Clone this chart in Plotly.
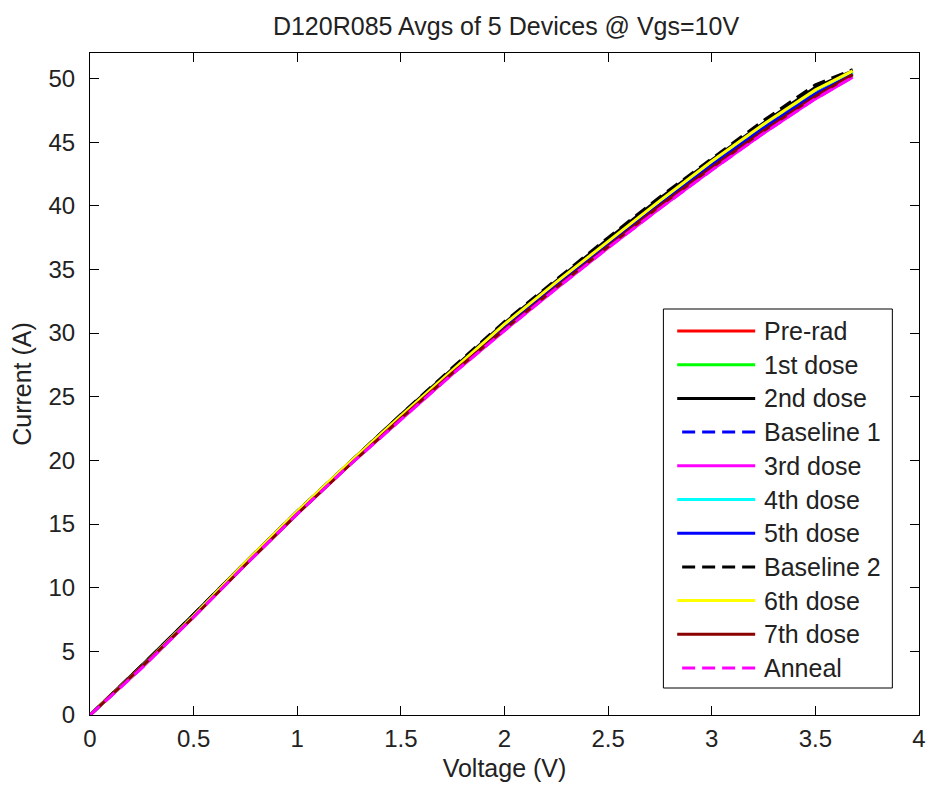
import plotly.graph_objects as go

# ---------------- data ----------------
voltage = [0, 0.25, 0.5, 0.75, 1.0, 1.25, 1.5, 1.75, 2.0, 2.25, 2.5, 2.75, 3.0, 3.25, 3.5, 3.68]

pre_rad    = [0, 3.8, 7.8, 11.9, 15.9, 19.7, 23.4, 27.0, 30.5, 33.8, 37.0, 40.2, 43.2, 46.1, 48.8, 50.4]
dose_1     = [0, 3.8, 7.8, 11.9, 15.9, 19.7, 23.4, 27.0, 30.5, 33.8, 37.0, 40.2, 43.3, 46.2, 48.9, 50.5]
dose_2     = [0, 3.9, 7.9, 12.0, 16.0, 19.8, 23.6, 27.2, 30.8, 34.1, 37.4, 40.6, 43.6, 46.5, 49.3, 50.6]
baseline_1 = [0, 3.8, 7.8, 11.9, 15.9, 19.7, 23.4, 27.0, 30.5, 33.8, 37.0, 40.2, 43.3, 46.2, 48.9, 50.4]
dose_3     = [0, 3.7, 7.7, 11.8, 15.8, 19.6, 23.2, 26.8, 30.2, 33.5, 36.7, 39.8, 42.8, 45.7, 48.4, 50.1]
dose_4     = [0, 3.8, 7.8, 11.9, 15.9, 19.7, 23.4, 27.0, 30.5, 33.8, 37.0, 40.2, 43.2, 46.1, 48.8, 50.4]
dose_5     = [0, 3.8, 7.8, 11.9, 15.9, 19.7, 23.4, 27.0, 30.5, 33.8, 37.0, 40.1, 43.2, 46.1, 48.8, 50.3]
baseline_2 = [0, 3.9, 7.9, 12.0, 16.0, 19.8, 23.6, 27.3, 30.9, 34.2, 37.5, 40.7, 43.7, 46.7, 49.5, 50.7]
dose_6     = [0, 3.8, 7.8, 12.0, 16.0, 19.8, 23.5, 27.1, 30.7, 34.0, 37.2, 40.4, 43.5, 46.4, 49.1, 50.6]
dose_7     = [0, 3.8, 7.7, 11.8, 15.8, 19.6, 23.3, 26.9, 30.3, 33.6, 36.8, 40.0, 43.0, 45.9, 48.6, 50.3]
anneal     = [0, 3.7, 7.7, 11.8, 15.8, 19.6, 23.2, 26.8, 30.2, 33.5, 36.7, 39.8, 42.8, 45.7, 48.4, 50.1]

series_names = ["Pre-rad", "1st dose", "2nd dose", "Baseline 1", "3rd dose", "4th dose",
                "5th dose", "Baseline 2", "6th dose", "7th dose", "Anneal"]
series_values = [pre_rad, dose_1, dose_2, baseline_1, dose_3, dose_4,
                 dose_5, baseline_2, dose_6, dose_7, anneal]
series_colors = ["#FF0000", "#00FF00", "#000000", "#0000FF", "#FF00FF", "#00FFFF",
                 "#0000FF", "#000000", "#FFFF00", "#8B0000", "#FF00FF"]
series_dash = ["solid", "solid", "solid", "13px,7px", "solid", "solid",
               "solid", "13px,7px", "solid", "solid", "13px,7px"]

x_ticks = [0, 0.5, 1, 1.5, 2, 2.5, 3, 3.5, 4]
x_ticklabels = ["0", "0.5", "1", "1.5", "2", "2.5", "3", "3.5", "4"]
y_ticks = [0, 5, 10, 15, 20, 25, 30, 35, 40, 45, 50]
y_ticklabels = ["0", "5", "10", "15", "20", "25", "30", "35", "40", "45", "50"]

# ---------------- figure ----------------
# the page body adds an 8px offset, so the figure is 8px smaller and all
# positions below are given in screen pixels minus that offset
OFF = 8
W, H = 938 - OFF, 790 - OFF
L, R, T, B = 86 - OFF, 12, 53 - OFF, 75
FONT = "Liberation Sans, Arial, sans-serif"
FS = 25
FS_TICK = 24
TXT = "#222222"

fig = go.Figure()
for name, vals, col, dash in zip(series_names, series_values, series_colors, series_dash):
    fig.add_trace(go.Scatter(x=voltage, y=vals, mode="lines", name=name,
                             line=dict(color=col, width=3, dash=dash),
                             showlegend=False))

# manual MATLAB-style legend (screen pixel -> paper helpers)
pw, ph = W - L - R, H - T - B
def px(xs):
    return (xs - OFF - L) / pw
def py(ys):
    return (H - B - (ys - OFF)) / ph

shapes = [dict(type="rect", xref="paper", yref="paper",
               x0=px(667), x1=px(899), y0=py(688), y1=py(309),
               line=dict(color="#000000", width=1), fillcolor="white", layer="above")]
annotations = []
row0, step = 331, 33.7
for i, (name, col, dash) in enumerate(zip(series_names, series_colors, series_dash)):
    yc = row0 + i * step
    x0 = 681 if dash == "solid" else 686
    shapes.append(dict(type="line", xref="paper", yref="paper",
                       x0=px(x0), x1=px(760), y0=py(yc), y1=py(yc),
                       line=dict(color=col, width=3, dash=dash), layer="above"))
    annotations.append(dict(xref="paper", yref="paper", x=px(767), y=py(yc),
                            text=name, showarrow=False, xanchor="left", yanchor="middle",
                            font=dict(family=FONT, size=FS, color=TXT)))

axis_common = dict(showline=True, linecolor="#000000", linewidth=1, mirror="ticks",
                   ticks="inside", ticklen=9, tickcolor="#000000", tickwidth=1,
                   showgrid=False, zeroline=False,
                   tickfont=dict(family=FONT, size=FS_TICK, color=TXT))

fig.update_layout(
    width=W, height=H,
    margin=dict(l=L, r=R, t=T, b=B, pad=0),
    paper_bgcolor="white", plot_bgcolor="white",
    title=dict(text="D120R085 Avgs of 5 Devices @ Vgs=10V", x=(L + pw / 2) / W, xanchor="center",
               y=1 - (26 - OFF) / H, yanchor="middle", yref="container",
               font=dict(family=FONT, size=FS, color=TXT)),
    xaxis=dict(range=[0, 4], tickvals=x_ticks, ticktext=x_ticklabels,
               title=dict(text="Voltage (V)", standoff=8,
                          font=dict(family=FONT, size=FS, color=TXT)),
               ticklabelstandoff=2, **axis_common),
    yaxis=dict(range=[0, 52], tickvals=y_ticks, ticktext=y_ticklabels,
               title=dict(text="Current (A)", standoff=11,
                          font=dict(family=FONT, size=FS, color=TXT)),
               ticklabelstandoff=9, **axis_common),
    shapes=shapes, annotations=annotations, showlegend=False,
)

fig.write_html("out.html")
